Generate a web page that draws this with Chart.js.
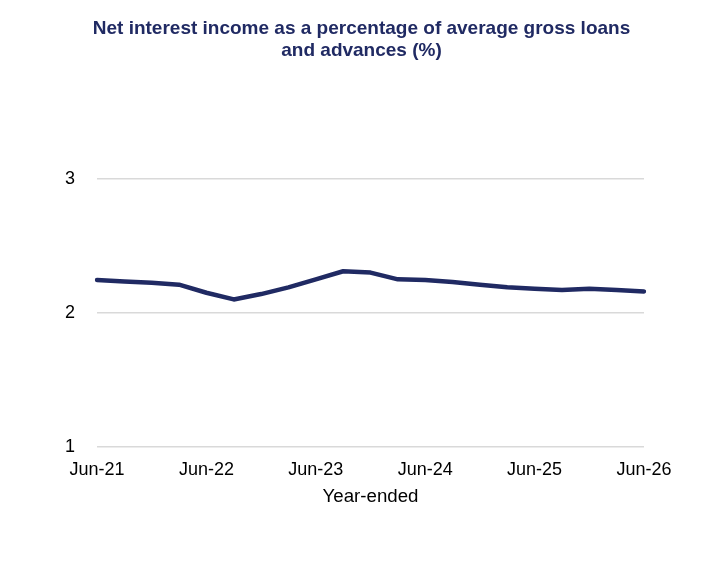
<!DOCTYPE html>
<html>
<head>
<meta charset="utf-8">
<script src="https://cdn.jsdelivr.net/npm/chart.js@4.4.1/dist/chart.umd.min.js"></script>
<style>
  html, body { margin: 0; padding: 0; background: #fff; }
  #wrap { width: 709px; height: 566px; }
</style>
</head>
<body>
<div id="wrap"><canvas id="niiChart"></canvas></div>
<script>
// Quarterly data, year-ended
const quarters = [
  'Jun-21', 'Sep-21', 'Dec-21', 'Mar-22',
  'Jun-22', 'Sep-22', 'Dec-22', 'Mar-23',
  'Jun-23', 'Sep-23', 'Dec-23', 'Mar-24',
  'Jun-24', 'Sep-24', 'Dec-24', 'Mar-25',
  'Jun-25', 'Sep-25', 'Dec-25', 'Mar-26',
  'Jun-26'
];
const niiPct = [
  2.245, 2.234, 2.224, 2.21,
  2.15, 2.10, 2.14, 2.19,
  2.25, 2.31, 2.30, 2.25,
  2.245, 2.23, 2.21, 2.19,
  2.18, 2.17, 2.18, 2.17,
  2.16
];
const yTicks = [1, 2, 3];

const navy = '#202a63';
const fontFamily = '"Liberation Sans", Arial, sans-serif';

const ctx = document.getElementById('niiChart').getContext('2d');
new Chart(ctx, {
  type: 'line',
  data: {
    labels: quarters,
    datasets: [{
      label: 'NII',
      data: niiPct,
      borderColor: navy,
      borderWidth: 4.5,
      pointRadius: 0,
      tension: 0,
      borderCapStyle: 'round',
      borderJoinStyle: 'round'
    }]
  },
  options: {
    responsive: true,
    maintainAspectRatio: false,
    animation: false,
    layout: { padding: { left: 60, right: 46, top: 0, bottom: 58 } },
    plugins: {
      legend: { display: false },
      tooltip: { enabled: false },
      title: {
        display: true,
        text: ['Net interest income as a percentage of average gross loans', 'and advances (%)'],
        color: navy,
        font: { family: fontFamily, size: 19, weight: 'bold', lineHeight: 1.15 },
        padding: { top: 18, bottom: 117 }
      }
    },
    scales: {
      x: {
        offset: false,
        grid: { display: false, drawTicks: false },
        border: { display: false },
        ticks: {
          autoSkip: false,
          maxRotation: 0,
          color: '#000',
          padding: 12,
          font: { family: fontFamily, size: 18 },
          callback: function (value, index) {
            return index % 4 === 0 ? quarters[index] : null;
          }
        },
        title: {
          display: true,
          text: 'Year-ended',
          color: '#000',
          font: { family: fontFamily, size: 18.67 },
          padding: { top: -7, bottom: 0 }
        }
      },
      y: {
        min: 1,
        max: 3,
        afterBuildTicks: function (axis) {
          axis.ticks = yTicks.map(v => ({ value: v }));
        },
        afterFit: function (axis) {
          axis.width = 37;
        },
        grid: { color: '#d9d9d9', lineWidth: 1.5, drawTicks: false },
        border: { display: false },
        ticks: {
          color: '#000',
          padding: 22,
          font: { family: fontFamily, size: 18 }
        }
      },
      // empty spacer on the right so the title sits centred like the original
      yRight: {
        position: 'right',
        grid: { display: false, drawTicks: false },
        border: { display: false },
        ticks: { display: false },
        afterFit: function (axis) {
          axis.width = 19;
        }
      }
    }
  }
});
</script>
</body>
</html>
